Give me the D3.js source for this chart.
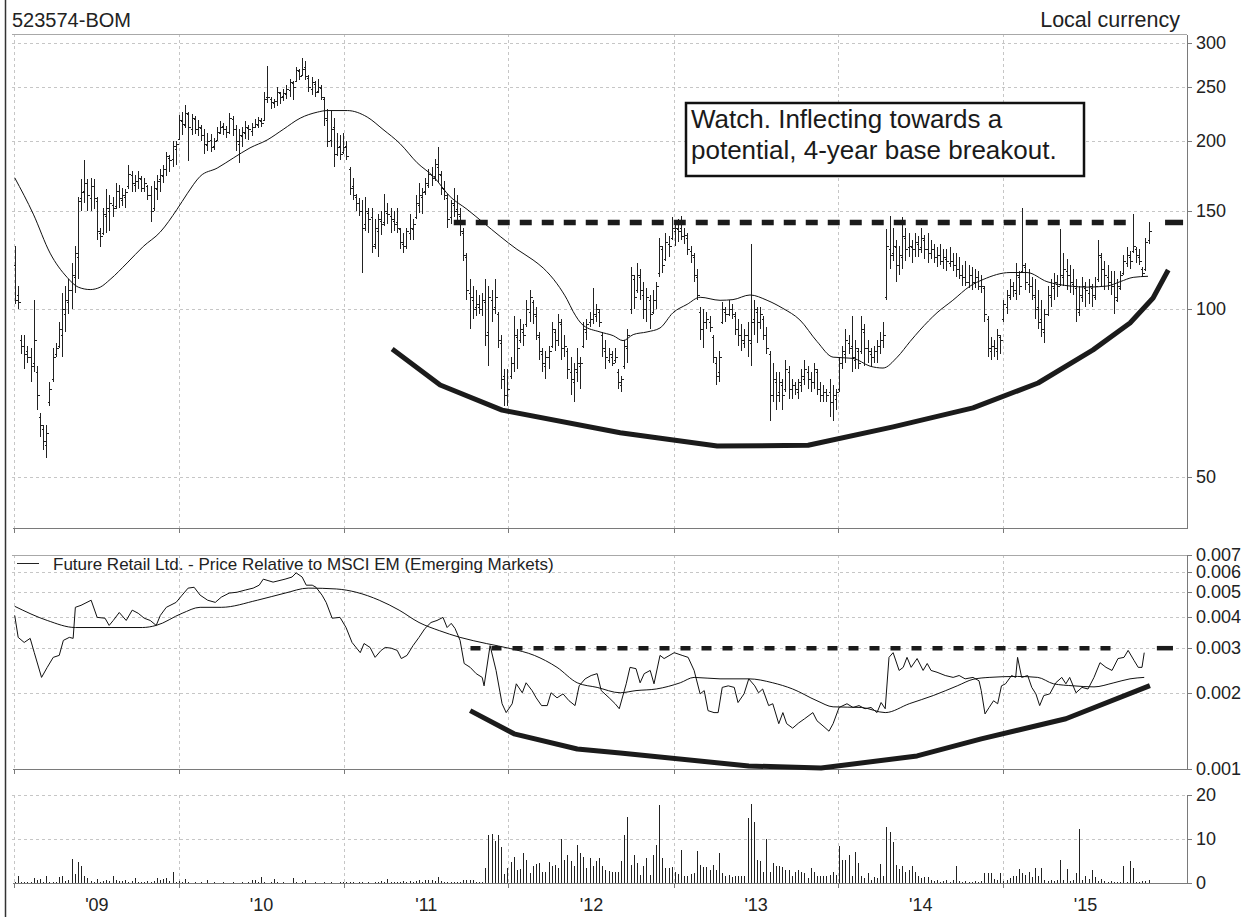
<!DOCTYPE html>
<meta charset="utf-8">
<style>
body {
  margin: 0;
  background: #fff;
}
svg {
  display: block;
  font-family: "Liberation Sans", Arial, sans-serif;
}
.grid line {
  stroke: #c6c6c6;
  stroke-dasharray: 3,3;
  shape-rendering: crispEdges;
}
.axis path, .axis line {
  stroke: #7a7a7a;
  shape-rendering: crispEdges;
}
.axis text {
  fill: #222;
  font-size: 18px;
}
.frame {
  stroke: #a8a8a8;
  shape-rendering: crispEdges;
}
.bar {
  stroke: #222;
  stroke-width: 1;
  shape-rendering: crispEdges;
}
.ma {
  fill: none;
  stroke: #111;
  stroke-width: 1;
}
.rel {
  fill: none;
  stroke: #111;
  stroke-width: 1;
  stroke-linejoin: round;
}
.cup {
  fill: none;
  stroke: #1b1b1b;
  stroke-width: 5;
  stroke-linejoin: round;
}
</style>
<svg width="1251" height="917"></svg>
<script src="https://cdn.jsdelivr.net/npm/d3@7"></script>
<script>

// weekly bars, week 0 = 2 Jan 2009
var firstWeek = Date.UTC(2009, 0, 2);

var opens = [
  120,106,88,86,84,82,80,77,64,61, 57,68,75,83,86,90,98,103,108,114, 124,158,163,168,158,166,156,137,137,147, 150,154,153,163,157,159,166,174,167,170, 171,165,166,160,152,164,171,173,178,187, 186,194,
  202,217,214,224,210,219,210,211,205,197, 201,196,201,207,213,210,208,219,210,198, 204,207,211,209,212,214,217,218,240,238, 234,236,244,241,243,247,254,256,267,263, 272,260,248,253,246,249,238,218,201,212, 190,196,
  191,196,178,166,159,155,150,142,149,146, 131,138,144,143,149,147,144,143,139,131, 130,137,139,146,154,159,163,167,174,173, 180,174,164,158,146,154,151,147,137,124, 107,104,101,101,100,103,91,104,101,98, 87,76,
  70,76,80,89,88,91,94,99,103,97, 89,83,79,82,86,91,88,94,85,84, 77,74,77,79,86,91,95,96,97,99, 90,84,81,82,81,77,73,79,85,100, 113,108,114,106,100,104,99,104,116,128, 123,131,134,
  138,139,140,135,134,127,124,114,99,92, 95,95,89,80,77,95,99,98,100,97, 92,90,87,90,87,96,99,95,96,90, 83,70,74,71,73,72,77,72,73,71, 73,75,77,75,74,77,72,70,71,71, 68,69,
  72,80,83,87,86,81,84,84,91,85, 83,82,84,86,88,105,128,126,129,120, 124,134,129,129,128,131,129,133,128,126, 128,124,125,122,123,121,122,120,118,115, 114,112,115,112,114,110,109,96,84,86, 84,89,
  96,101,105,110,107,114,117,119,111,110, 105,101,96,91,98,105,109,111,111,114, 117,115,111,109,99,105,109,107,109,105, 113,124,118,114,112,110,104,109,116,121, 124,127,128,124,118,118,133
];

var highs = [
  130,110,90,90,86,85,104,79,65,62, 62,74,85,87,95,107,110,113,121,130, 159,171,185,171,172,171,159,140,152,164, 160,159,168,167,165,164,181,177,174,177, 173,172,167,166,170,174,178,181,191,189, 200,200,
  223,226,232,226,224,222,218,214,210,207, 206,203,212,217,216,213,225,222,214,210, 212,217,214,216,219,221,220,245,273,240, 238,250,245,248,252,259,256,272,270,282, 278,263,261,256,259,252,240,228,227,220, 207,205,
  207,200,180,172,161,158,157,159,152,152, 145,148,150,161,155,152,150,152,140,137, 140,148,145,160,168,165,172,178,180,186, 195,177,170,161,157,165,160,152,140,126, 113,110,108,106,107,113,110,108,113,99, 90,78,
  78,82,97,92,96,94,104,108,104,101, 91,85,84,86,95,92,98,96,90,85, 82,80,85,82,95,96,99,109,102,100, 91,88,85,84,85,78,76,88,92,119, 115,121,118,112,109,106,108,112,134,130, 137,135,146,
  143,145,147,140,137,130,126,118,101,100, 99,97,90,82,84,103,101,104,102,99, 96,94,92,95,131,104,101,101,97,93, 84,80,77,77,75,81,79,75,74,75, 78,81,79,77,80,78,74,73,72,75, 73,72,
  82,86,92,90,97,88,85,97,94,88, 85,86,88,91,95,139,147,140,133,130, 146,140,137,133,137,135,140,136,137,133, 131,129,131,128,128,129,126,126,124,120, 122,120,119,118,117,115,110,97,89,88, 92,90,
  104,108,113,112,121,117,152,121,118,114, 113,108,104,100,110,113,116,115,139,126, 123,120,118,113,110,114,112,113,111,114, 133,126,122,120,117,117,113,117,125,129, 127,148,129,128,119,134,143
];

var lows = [
  102,100,83,78,80,74,77,66,59,56, 54,67,74,82,85,82,91,98,100,107, 113,150,155,150,150,151,133,129,136,137, 138,146,151,152,153,152,164,162,162,164, 162,162,157,143,150,157,162,168,173,176, 180,181,
  201,205,211,184,205,206,204,200,190,192, 191,193,200,206,205,203,206,204,192,183, 195,202,201,204,211,211,212,217,234,228, 229,231,233,236,238,240,237,255,257,262, 258,245,242,240,244,237,213,195,195,180, 188,185,
  190,185,160,157,150,147,116,138,137,126, 128,124,136,141,142,137,138,137,128,126, 128,133,133,145,149,148,160,165,166,170, 168,160,157,140,142,146,144,135,122,104, 92,96,97,98,97,86,79,95,98,85, 72,67,
  67,75,77,78,87,86,93,95,94,88, 81,77,75,78,85,84,86,81,82,75, 70,68,74,72,85,88,93,94,95,93, 82,78,80,79,80,72,71,78,80,98, 100,107,104,96,95,92,98,100,114,116, 122,124,133,
  130,132,133,131,125,121,112,104,88,85, 92,91,80,73,74,94,95,97,96,90, 86,84,85,82,79,90,87,92,88,83, 63,68,66,68,66,71,69,69,70,69, 71,73,72,71,72,70,68,68,68,64, 63,66,
  71,78,80,83,77,78,78,83,79,80, 79,80,80,83,85,104,118,122,112,115, 118,122,124,121,124,124,126,123,121,123, 121,119,120,118,117,119,117,114,113,110, 110,109,108,109,108,107,95,82,81,82, 81,83,
  95,98,104,105,104,106,116,108,107,104, 96,92,89,87,97,101,104,105,110,110, 108,107,106,95,97,103,101,102,101,104, 112,110,108,108,106,98,103,108,115,119, 118,126,121,120,114,117,131
];

var closes = [
  104,103,86,83,82,79,88,70,62,58, 60,72,82,85,92,100,104,108,115,126, 156,162,168,160,166,158,138,135,148,152, 155,152,163,158,160,162,175,168,170,172, 165,168,160,150,165,170,174,178,188,185, 196,198,
  218,215,225,212,220,210,212,205,198,200, 195,200,208,212,210,208,220,210,200,205, 208,212,210,212,215,218,216,238,240,235, 236,245,240,244,248,255,250,268,262,270, 262,250,255,245,250,240,220,200,210,190, 195,190,
  195,188,165,160,155,150,140,150,145,130, 140,145,142,150,148,145,142,140,132,130, 138,140,142,155,160,162,168,175,172,182, 175,165,160,145,155,150,148,138,125,108, 105,100,102,100,104,90,105,100,105,88, 75,70,
  72,80,90,85,92,90,100,105,98,90, 84,80,82,84,92,88,95,85,86,78, 75,78,80,80,92,94,96,98,100,95, 85,82,83,80,82,74,75,86,90,115, 105,115,108,100,105,98,104,110,130,120, 132,130,140,
  140,138,135,136,128,125,115,106,92,95, 96,93,82,76,82,100,98,100,98,92, 90,88,90,88,95,100,95,98,90,85, 70,75,70,74,70,78,72,73,72,74, 76,78,75,74,78,72,70,71,70,68, 70,71,
  80,84,88,85,82,85,80,92,85,84, 82,84,86,88,90,130,125,130,120,125, 135,128,130,128,132,128,134,128,126,128, 124,125,122,124,122,122,120,118,115,114, 112,115,112,114,110,110,98,85,86,85, 90,88,
  102,106,110,108,115,110,120,112,110,106, 100,95,92,98,106,110,112,110,115,118, 115,112,110,100,106,110,108,110,106,110, 125,118,115,112,110,105,110,115,122,125, 122,130,125,122,116,132,138
];

// weekly volume (millions)
var volume = [
  0.3,1.7,0.2,0.3,0.2,0.2,1.1,0.75,0.9,0.2, 1.7,0.2,0.3,0.2,1.3,1.5,0.4,0.75,5.4,2.1, 4.8,3.9,1.5,1.1,0.4,0.3,0.9,0.3,0.4,0.75, 0.5,1.7,0.6,0.4,0.5,0.75,0.3,0.4,1.1,0.3, 0.2,0.3,0.4,0.3,0.5,1.1,0.6,0.9,1.05,0.4, 2.6,0.3,
  0.5,0.2,0.9,0.2,0.1,0.2,0.1,0.2,0.1,0.6, 0.1,0.2,0.1,0.1,0.2,0.1,0.1,0.2,0.1,0.1, 0.2,0.1,0.3,0.6,0.6,0.2,1.35,0.2,0.1,0.2, 0.9,0.2,0.1,0.2,0.1,0.1,1.1,0.2,0.1,0.2, 0.6,0.1,0.1,0.2,0.1,0.1,0.2,0.1,0.2,0.1, 0.1,0.2,
  0.2,0.3,0.2,0.2,0.1,0.2,0.2,0.1,0.2,0.1, 0.3,0.2,0.4,0.3,0.9,0.2,0.3,0.2,0.3,0.4, 0.3,0.5,0.3,0.4,0.6,0.3,0.6,0.6,0.6,0.4, 1.35,0.4,0.3,0.3,0.2,0.2,0.3,0.3,0.6,0.6, 0.6,0.6,0.3,0.2,0.3,3.3,10.9,11.2,9.6,10.9, 8.1,2.0,
  3.4,4.75,5.9,3.0,3.2,6.8,5.3,2.3,3.9,4.3, 4.5,2.6,2.6,4.75,3.9,4.2,3.4,10.0,5.3,6.4, 5.1,3.9,8.7,6.8,6.0,3.4,5.6,3.8,4.9,5.7, 3.8,3.0,2.8,2.6,2.6,2.6,4.9,10.9,15.0,4.1, 6.4,4.5,1.9,3.8,5.6,1.9,6.4,8.6,17.8,5.6, 3.4,3.3,3.6,
  2.6,2.1,7.5,1.5,1.7,2.1,2.3,7.3,4.1,3.6, 3.6,2.9,4.1,2.9,6.9,2.3,1.65,1.9,1.35,1.65, 1.65,1.5,1.65,14.7,18.0,13.9,5.3,4.9,2.4,10.0, 2.4,4.5,3.8,3.9,3.6,2.9,2.9,1.65,2.6,2.9, 2.6,2.3,1.1,3.4,2.6,1.65,1.5,1.5,1.65,1.9, 2.6,1.9,
  8.3,5.3,5.3,6.4,1.5,7.1,4.5,1.5,1.1,2.3, 0.75,1.35,1.1,4.3,1.5,12.8,11.7,9.4,4.1,3.2, 3.8,2.6,3.0,3.9,2.6,1.5,1.1,1.35,1.35,0.75, 0.4,0.6,0.3,0.5,0.6,0.3,0.6,3.9,0.5,0.3, 0.4,0.3,0.3,0.5,0.3,0.4,2.3,2.3,2.3,0.9, 0.6,2.3,
  0.5,0.75,1.1,1.5,1.5,3.2,2.3,1.9,2.6,1.35, 3.4,1.5,3.4,0.6,0.5,0.75,0.5,0.6,5.3,0.6, 3.2,0.5,0.6,2.3,12.2,0.6,1.5,0.8,2.9,1.35, 0.5,0.9,0.4,0.3,0.5,0.2,0.2,0.3,3.8,0.3, 4.9,3.4,0.2,0.2,0.5,0.5,0.6
];

// 40-week moving average of price, [week, value]
var priceMA = [
  [0,172],[5.9,148],[11.2,126],[16.6,114],[20.1,109.5],[23.9,108.4],[27.1,109.5],[30.2,113],[35.6,121],[40.7,129.5],
  [46.1,137.5],[51.4,151],[54.6,161],[58.7,173],[64.1,179],[69.2,186.6],[74.5,194.6],[79.9,201],[85,210],[90.4,220],
  [95.8,225.5],[98.9,227],[105.3,227],[111.6,221],[116.6,210],[122,198],[127.4,183],[132.5,173],[137.9,159],[143.2,151],
  [148.3,143],[153.7,135],[159,128],[164.1,122.5],[167.3,118.5],[171.7,111],[174.9,104],[176.8,99],[180,93.5],[185.3,91],
  [189.5,89.6],[192.6,87.8],[195.8,90],[200.2,91],[204.3,92.5],[208.4,98.5],[212.9,102],[217,105],[223.3,103.7],[227.4,104],
  [232.8,106],[238.2,103.7],[243.2,100.3],[248.6,95.6],[254,87.5],[259.1,82],[265.4,81.6],[270.8,79],[274.9,78.4],[279.4,82],
  [283.5,87.5],[286.6,91.7],[292,98.5],[297,103.7],[302.5,110],[306.6,113],[315.1,116.3],[320.5,116.3],[326.8,112],[334.1,110],
  [339.5,109.5],[345.9,110],[350,112],[354.1,114],[358.8,114.5]
];

// price relative to MSCI EM, [week, value]
var relative = [
  [0,4.04e-3],[1.1,3.31e-3],[3,3.16e-3],[4.9,3.28e-3],[6.2,2.88e-3],[8.5,2.30e-3],[10.3,2.52e-3],[12.2,2.76e-3],[14.1,2.81e-3],[15.4,3.22e-3],
  [17.3,3.31e-3],[18.5,3.28e-3],[19.2,4.35e-3],[21,4.43e-3],[24.2,4.64e-3],[26.1,3.97e-3],[28.6,3.94e-3],[29.9,3.69e-3],[31.2,3.86e-3],[33.1,4.15e-3],
  [35.3,3.86e-3],[37.2,4.24e-3],[39.1,4.12e-3],[41,3.94e-3],[42.9,3.86e-3],[44.8,3.69e-3],[46.1,4.04e-3],[48,4.35e-3],[51.1,4.55e-3],[53,4.86e-3],
  [54.9,5.18e-3],[56.8,5.22e-3],[58.7,4.86e-3],[61.1,4.64e-3],[63.5,4.55e-3],[65.4,4.77e-3],[67.9,4.95e-3],[70.4,4.99e-3],[73,5.09e-3],[75.5,5.18e-3],
  [77.4,5.32e-3],[78.7,5.62e-3],[81.8,5.47e-3],[85.6,5.62e-3],[87.8,5.73e-3],[89.1,5.95e-3],[91,5.73e-3],[92.3,5.32e-3],[94.2,5.32e-3],[95.4,5.22e-3],
  [97.3,4.86e-3],[98.6,4.55e-3],[100.5,3.94e-3],[103,3.97e-3],[104.9,3.62e-3],[106.8,3.16e-3],[109.4,2.88e-3],[110.6,3.13e-3],[112.5,3.02e-3],[114.1,2.76e-3],
  [116,2.94e-3],[117.3,3.02e-3],[119.2,3.00e-3],[121.1,2.94e-3],[122.4,2.73e-3],[124.2,2.81e-3],[126.1,3.07e-3],[128,3.31e-3],[129.9,3.59e-3],[131.8,3.79e-3],
  [133.7,3.86e-3],[135.6,3.97e-3],[136.9,3.62e-3],[138.2,3.76e-3],[139.4,3.59e-3],[141,3.22e-3],[142.3,2.61e-3],[144.2,2.52e-3],[146.1,2.38e-3],[148,2.30e-3],
  [148.6,2.13e-3],[150.5,3.07e-3],[152.4,2.45e-3],[154.3,1.81e-3],[155.6,1.67e-3],[157.5,1.81e-3],[158.8,2.17e-3],[160.7,2.00e-3],[161.9,2.19e-3],[163.8,2.04e-3],
  [165.1,1.91e-3],[166.8,1.78e-3],[168.6,1.78e-3],[169.8,2.00e-3],[171.7,1.91e-3],[173.6,1.98e-3],[175.5,1.86e-3],[177.4,1.78e-3],[178.7,2.13e-3],[180.6,2.27e-3],
  [182.5,2.34e-3],[184.4,2.38e-3],[185.7,2.04e-3],[188.2,1.91e-3],[190.1,1.81e-3],[191.4,1.73e-3],[193.6,2.17e-3],[194.8,2.52e-3],[196.7,2.49e-3],[198,2.19e-3],
  [199.3,2.38e-3],[201.2,2.45e-3],[202.4,2.17e-3],[204.3,2.81e-3],[205.6,2.73e-3],[208.8,2.88e-3],[211.3,2.81e-3],[213.2,2.76e-3],[215.1,2.45e-3],[217,1.98e-3],
  [218.3,2.04e-3],[219.5,1.70e-3],[221.4,1.67e-3],[222.7,1.67e-3],[224,2.10e-3],[225.9,2.13e-3],[227.8,2.10e-3],[229,1.83e-3],[230.9,1.98e-3],[232.4,2.27e-3],
  [234.3,2.13e-3],[235.5,2.00e-3],[236.8,2.07e-3],[238.7,1.78e-3],[240,1.81e-3],[241.9,1.51e-3],[243.2,1.67e-3],[244.4,1.51e-3],[246.3,1.45e-3],[248.2,1.52e-3],
  [250.1,1.58e-3],[252.7,1.67e-3],[254,1.55e-3],[255.9,1.48e-3],[257.8,1.41e-3],[259.1,1.51e-3],[261,1.75e-3],[263.5,1.81e-3],[265.4,1.75e-3],[267.3,1.78e-3],
  [269.2,1.73e-3],[271.1,1.75e-3],[273,1.67e-3],[274.3,1.83e-3],[275.6,1.73e-3],[276.8,2.76e-3],[278.1,2.88e-3],[280,2.45e-3],[281.3,2.52e-3],[282.5,2.76e-3],
  [283.8,2.52e-3],[285.7,2.73e-3],[287.6,2.45e-3],[288.9,2.61e-3],[290.1,2.45e-3],[292,2.41e-3],[294.6,2.34e-3],[297.1,2.30e-3],[299,2.34e-3],[300.9,2.27e-3],
  [303.4,2.30e-3],[305.3,2.23e-3],[306,2.04e-3],[307.2,1.65e-3],[308.5,1.75e-3],[309.9,1.86e-3],[311.2,1.81e-3],[312.4,2.13e-3],[313.7,2.17e-3],[315.6,2.34e-3],
  [316.9,2.30e-3],[317.5,2.76e-3],[318.8,2.30e-3],[320.7,2.34e-3],[322,2.10e-3],[323.3,1.98e-3],[324.5,1.78e-3],[325.8,1.95e-3],[327.7,1.98e-3],[329.6,2.19e-3],
  [331.5,2.30e-3],[332.8,2.17e-3],[334,2.30e-3],[336,2.00e-3],[337.9,2.10e-3],[339.8,2.07e-3],[341.7,2.30e-3],[343.6,2.63e-3],[345.5,2.52e-3],[347.4,2.45e-3],
  [349.3,2.73e-3],[351.2,2.76e-3],[352.5,2.94e-3],[354.4,2.68e-3],[355.7,2.52e-3],[356.9,2.52e-3],[357.6,2.88e-3]
];

var relativeMA = [
  [0,4.39e-3],[10.3,3.86e-3],[19.2,3.62e-3],[30.5,3.62e-3],[40.4,3.62e-3],[44.8,3.69e-3],[53,4.12e-3],[58.7,4.35e-3],[65.4,4.35e-3],[76.8,4.64e-3],
  [85.6,4.95e-3],[92.9,5.18e-3],[101.8,5.14e-3],[108.1,4.99e-3],[115.4,4.64e-3],[121.7,4.24e-3],[128,3.79e-3],[134.4,3.52e-3],[141,3.31e-3],[149.3,3.13e-3],
  [156.9,2.99e-3],[164.5,2.81e-3],[171.7,2.52e-3],[178.1,2.19e-3],[184.4,2.10e-3],[191.7,2.00e-3],[196.7,2.04e-3],[203.1,2.07e-3],[210.7,2.19e-3],[215.1,2.30e-3],
  [223.3,2.27e-3],[232.4,2.27e-3],[240,2.19e-3],[246.3,2.07e-3],[254,1.86e-3],[259.1,1.76e-3],[268,1.75e-3],[275.6,1.67e-3],[283.2,1.81e-3],[290.8,1.95e-3],
  [298.4,2.13e-3],[303.4,2.26e-3],[308.5,2.30e-3],[317.5,2.32e-3],[323.9,2.30e-3],[328.9,2.17e-3],[335.3,2.13e-3],[341.7,2.11e-3],[348,2.19e-3],[353.1,2.27e-3],
  [357.6,2.30e-3]
];

// hand-drawn annotations
var priceBase = [[119.5,84.8],[134.7,73.1],[154.3,65.9],[191.7,60.0],[222.4,56.8],[251.2,57.0],[278.1,61.5],[303.4,66.5],[324,73.7],[341.4,84.5],[353.1,94.4],[360.4,104.7],[365.2,117.5]];
var relativeBase = [[144.2,1.70e-3],[158.1,1.377e-3],[178.1,1.20e-3],[191.7,1.157e-3],[232.4,1.028e-3],[255.3,1.009e-3],[285.7,1.126e-3],[306,1.315e-3],[332.8,1.579e-3],[359.4,2.134e-3]];
var priceResistance = {level: 143, dashed: [139, 352.2], stub: [364.2, 369.9]};
var relResistance = {level: 0.003, dashed: [144.3, 348], stub: [361.6, 366.7]};

var priceTicks = [50, 100, 150, 200, 250, 300];
var relTicks = [0.001, 0.002, 0.003, 0.004, 0.005, 0.006, 0.007];
var volTicks = [0, 10, 20];
var years = [2009, 2010, 2011, 2012, 2013, 2014, 2015];

var title = "523574-BOM",
    currency = "Local currency",
    legendLabel = "Future Retail Ltd. - Price Relative to MSCI EM (Emerging Markets)",
    note = ["Watch. Inflecting towards a", "potential, 4-year base breakout."];

function weekDate(w) { return new Date(firstWeek + w * 7 * 864e5); }

var svg = d3.select("svg");

var left = 12, right = 1187;
var pricePanel = {top: 34, bottom: 528},
    relPanel = {top: 555, bottom: 769},
    volPanel = {top: 795, bottom: 883};

var x = d3.scaleUtc()
    .domain([new Date(Date.UTC(2008, 11, 27)), new Date(Date.UTC(2016, 1, 13))])
    .range([left, right]);

var yPrice = d3.scaleLog().domain([40.5, 311.4]).range([pricePanel.bottom, pricePanel.top]);
var yRel = d3.scaleLog().domain([0.001, 0.007]).range([relPanel.bottom, relPanel.top]);
var yVol = d3.scaleLinear().domain([0, 20]).range([volPanel.bottom, volPanel.top]);

var yearStarts = years.map(function(y) { return new Date(Date.UTC(y, 0, 1)); });
var yearMids = years.map(function(y) { return new Date(Date.UTC(y, 6, 2)); });

function px(v) { return Math.round(v) + 0.5; }

// outer left rule
svg.append("line")
    .attr("x1", 5.5).attr("x2", 5.5).attr("y1", 0).attr("y2", 917)
    .attr("stroke", "#333").attr("stroke-width", 1.5);

// grids
function grid(panel, yScale, ticks) {
  var g = svg.append("g").attr("class", "grid");
  g.selectAll("line.v")
      .data(yearStarts)
    .enter().append("line")
      .attr("x1", function(d) { return px(x(d)); })
      .attr("x2", function(d) { return px(x(d)); })
      .attr("y1", panel.top)
      .attr("y2", panel.bottom);
  g.selectAll("line.h")
      .data(ticks)
    .enter().append("line")
      .attr("x1", left)
      .attr("x2", right)
      .attr("y1", function(d) { return px(yScale(d)); })
      .attr("y2", function(d) { return px(yScale(d)); });
}
grid(pricePanel, yPrice, priceTicks);
grid(relPanel, yRel, relTicks.slice(1, 6));
grid(volPanel, yVol, [10, 20]);

// panel tops
[pricePanel.top, relPanel.top].forEach(function(t) {
  svg.append("line").attr("class", "frame")
      .attr("x1", left).attr("x2", right).attr("y1", t + 0.5).attr("y2", t + 0.5);
});

// bottom axes with year ticks
[pricePanel, relPanel, volPanel].forEach(function(p) {
  svg.append("g")
      .attr("class", "axis")
      .attr("transform", "translate(0," + p.bottom + ")")
      .call(d3.axisBottom(x).tickValues(yearStarts).tickSize(5).tickSizeOuter(0).tickFormat(""));
});

svg.append("g")
    .attr("class", "axis labels")
    .attr("transform", "translate(0," + volPanel.bottom + ")")
    .call(d3.axisBottom(x).tickValues(yearMids).tickSize(0).tickPadding(15)
        .tickFormat(function(d) { return "'" + d3.utcFormat("%y")(d); }))
    .call(function(g) { g.select(".domain").remove(); });

// right axes
function rightAxis(scale, ticks, fmt) {
  svg.append("g")
      .attr("class", "axis")
      .attr("transform", "translate(" + right + ",0)")
      .call(d3.axisRight(scale).tickValues(ticks).tickSize(5).tickSizeOuter(0).tickPadding(4).tickFormat(fmt));
}
rightAxis(yPrice, priceTicks, d3.format("d"));
rightAxis(yRel, relTicks, d3.format(".3f"));
rightAxis(yVol, volTicks, d3.format("d"));

// price bars (open-high-low-close)
var bars = svg.append("g");
highs.forEach(function(h, i) {
  var cx = px(x(weekDate(i)));
  bars.append("line").attr("class", "bar")
      .attr("x1", cx).attr("x2", cx)
      .attr("y1", yPrice(h)).attr("y2", yPrice(lows[i]));
  bars.append("line").attr("class", "bar")
      .attr("x1", cx - 2).attr("x2", cx)
      .attr("y1", px(yPrice(opens[i]))).attr("y2", px(yPrice(opens[i])));
  bars.append("line").attr("class", "bar")
      .attr("x1", cx).attr("x2", cx + 2)
      .attr("y1", px(yPrice(closes[i]))).attr("y2", px(yPrice(closes[i])));
});

var priceLine = d3.line()
    .x(function(d) { return x(weekDate(d[0])); })
    .y(function(d) { return yPrice(d[1]); });
var relLine = d3.line()
    .x(function(d) { return x(weekDate(d[0])); })
    .y(function(d) { return yRel(d[1]); });

svg.append("path").attr("class", "ma")
    .attr("d", priceLine.curve(d3.curveMonotoneX)(priceMA));
priceLine.curve(d3.curveLinear);

// volume bars
svg.append("g").selectAll("line")
    .data(volume)
  .enter().append("line")
    .attr("class", "bar")
    .attr("x1", function(d, i) { return px(x(weekDate(i))); })
    .attr("x2", function(d, i) { return px(x(weekDate(i))); })
    .attr("y1", yVol(0))
    .attr("y2", function(d) { return yVol(d); });

// relative strength
svg.append("path").attr("class", "rel").attr("d", relLine(relative));
svg.append("path").attr("class", "ma")
    .attr("d", relLine.curve(d3.curveMonotoneX)(relativeMA));
relLine.curve(d3.curveLinear);

// annotations
svg.append("path").attr("class", "cup").attr("d", priceLine(priceBase));
svg.append("path").attr("class", "cup").attr("d", relLine(relativeBase));

function resistance(r, yScale, width, dash) {
  var yy = yScale(r.level);
  svg.append("line")
      .attr("x1", x(weekDate(r.dashed[0]))).attr("x2", x(weekDate(r.dashed[1])))
      .attr("y1", yy).attr("y2", yy)
      .attr("stroke", "#1b1b1b").attr("stroke-width", width)
      .attr("stroke-dasharray", dash);
  svg.append("line")
      .attr("x1", x(weekDate(r.stub[0]))).attr("x2", x(weekDate(r.stub[1])))
      .attr("y1", yy).attr("y2", yy)
      .attr("stroke", "#1b1b1b").attr("stroke-width", width);
}
resistance(priceResistance, yPrice, 5.5, "12,10");
resistance(relResistance, yRel, 4.5, "10,11");

// note box
var box = svg.append("g");
box.append("rect")
    .attr("x", 686).attr("y", 103).attr("width", 398).attr("height", 73)
    .attr("fill", "#fff").attr("stroke", "#111").attr("stroke-width", 2.5);
box.selectAll("text")
    .data(note)
  .enter().append("text")
    .attr("x", 691)
    .attr("y", function(d, i) { return 128 + i * 31; })
    .attr("font-size", 26)
    .attr("fill", "#1a1a1a")
    .text(function(d) { return d; });

// headings
svg.append("text")
    .attr("x", 12).attr("y", 27)
    .attr("font-size", 20).attr("fill", "#222")
    .text(title);
svg.append("text")
    .attr("x", 1180).attr("y", 27)
    .attr("text-anchor", "end")
    .attr("font-size", 21.5).attr("fill", "#222")
    .text(currency);

// legend
svg.append("line")
    .attr("x1", 17).attr("x2", 39).attr("y1", 563.5).attr("y2", 563.5)
    .attr("stroke", "#222");
svg.append("text")
    .attr("x", 53).attr("y", 570)
    .attr("font-size", 17).attr("fill", "#222")
    .text(legendLabel);

</script>
